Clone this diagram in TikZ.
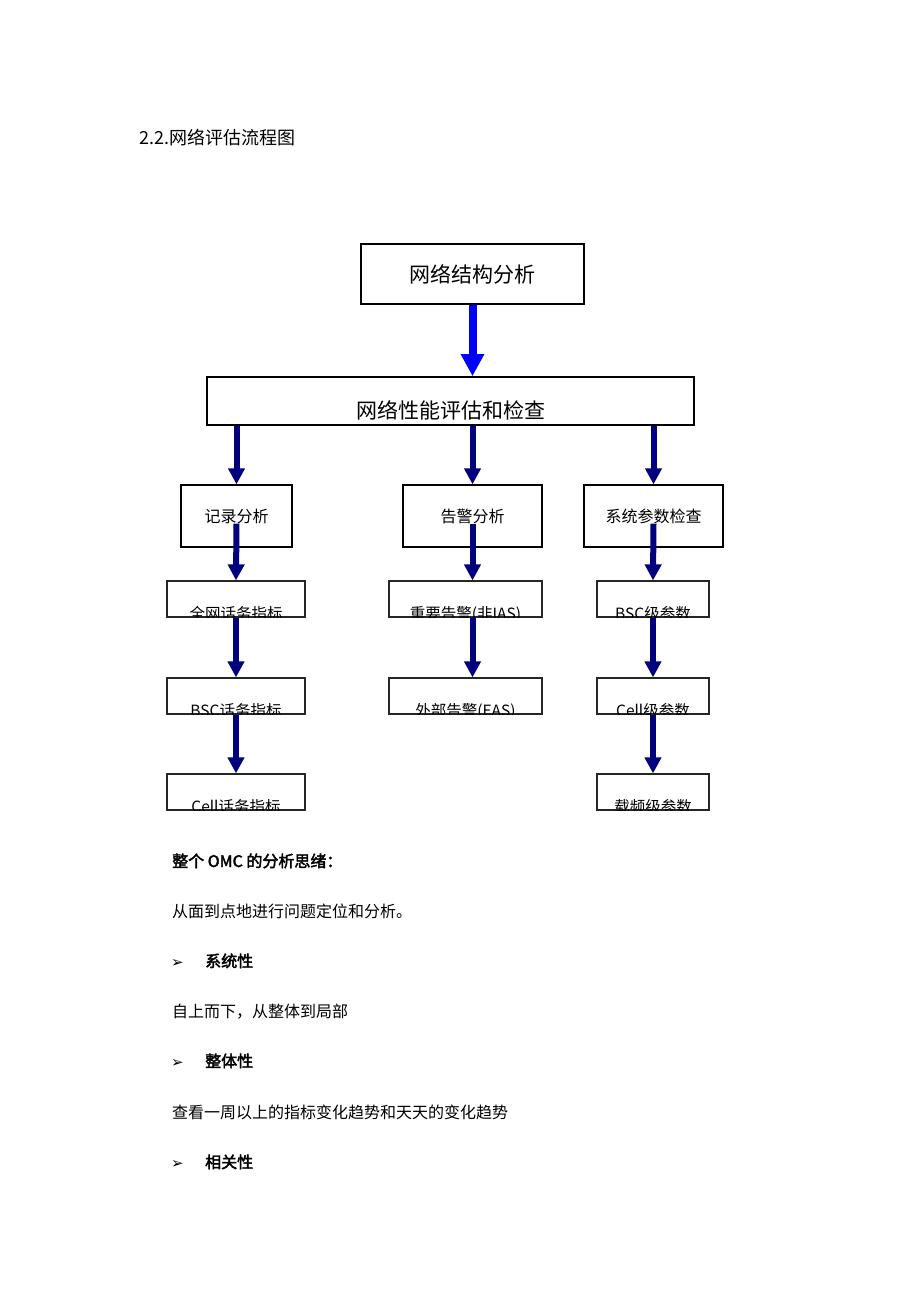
\documentclass[tikz,border=0pt]{standalone}
\usepackage{fontspec}
\newfontfamily\cjk[AutoFakeBold=2.5]{Noto Sans CJK SC}
\newfontfamily\symfont{DejaVu Sans}
\usetikzlibrary{arrows.meta,positioning,calc}
\definecolor{navy}{RGB}{0,0,128}

\begin{document}
\begin{tikzpicture}
  [
  x=1pt, y=-1pt, font=\cjk,
  bigbox/.style={rectangle, draw=black, line width=1.6pt, inner sep=0pt, font=\cjk\fontsize{21}{25}\selectfont},
  subbox/.style={rectangle, draw=black, line width=1.3pt, minimum height=62pt, inner sep=0pt, font=\cjk\fontsize{16}{19}\selectfont},
  leafbox/.style={rectangle, draw=black!85, line width=1.2pt, minimum height=36pt, inner sep=0pt},
  leaftext/.style={anchor=base, inner sep=0pt, font=\cjk\fontsize{15.5}{18}\selectfont},
  plain/.style={anchor=base west, inner sep=0pt, font=\cjk\fontsize{16}{19}\selectfont},
  heavy/.style={plain, font=\cjk\bfseries\fontsize{16}{19}\selectfont},
  bullet/.style={plain, font=\symfont\fontsize{15}{18}\selectfont},
  bigarrow/.style={blue, line width=8pt, -{Triangle[width=22pt,length=22pt]}},
  flow/.style={navy, line width=6pt, -{Triangle[width=16pt,length=16pt]}}
  ]

\fill[white] (0,0) rectangle (920,1302);

\node[plain, font=\cjk\fontsize{18}{21}\selectfont] (title) at (139,144) {2.2.网络评估流程图};

% upper part
\node[bigbox, minimum width=223pt, minimum height=60pt] (net) at (472.5,274) {网络结构分析};
\node[bigbox, minimum width=487pt, minimum height=48pt, text height=34pt, text depth=0pt] (eval) at (450.5,401) {网络性能评估和检查};
\draw[bigarrow] (net.south) -- (net.south |- eval.north);

\node[subbox, minimum width=111pt] (rec) at (236.5,516) {记录分析};
\node[subbox, minimum width=139pt] (alarm) at (472.5,516) {告警分析};
\node[subbox, minimum width=139pt] (para) at (653.5,516) {系统参数检查};

\foreach \s in {rec,alarm,para} {
  \draw[flow] (\s.center |- eval.south) -- (\s.north);
}

% lower boxes, text cut off at the bottom edge
\foreach \n/\x/\y/\w/\t in {rec1/236/599/138/全网话务指标, rec2/236/696/138/BSC话务指标, rec3/236/792/138/Cell话务指标,
  alarm1/465.5/599/153/重要告警(非IAS), alarm2/465.5/696/153/外部告警(EAS),
  para1/653/599/112/BSC级参数, para2/653/696/112/Cell级参数, para3/653/792/112/载频级参数} {
  \node[leafbox, minimum width=\w pt] (\n) at (\x,\y) {};
  \begin{scope}
    \clip (\n.south west) rectangle (\n.north east);
    \node[leaftext] (\n-t) at ($(\n.south)+(0,2)$) {\t};
  \end{scope}
}

\draw[flow] ($(rec.south)+(0,-24)$) -- (rec1.north);
\draw[flow] (rec1.south) -- (rec2.north);
\draw[flow] (rec2.south) -- (rec3.north);
\draw[flow] ($(alarm.south)+(0,-24)$) -- (alarm.center |- alarm1.north);
\draw[flow] (alarm.center |- alarm1.south) -- (alarm.center |- alarm2.north);
\draw[flow] ($(para.south)+(0,-24)$) -- (para1.north);
\draw[flow] (para1.south) -- (para2.north);
\draw[flow] (para2.south) -- (para3.north);

% text below
\node[heavy] (summary) at (172,867) {整个 OMC 的分析思绪：};
\node[plain] (line1) at (172,917) {从面到点地进行问题定位和分析。};
\node[bullet] (b1mark) at (171,967) {➢};
\node[heavy] (b1) at (205,967) {系统性};
\node[plain] (line2) at (172,1017) {自上而下，从整体到局部};
\node[bullet] (b2mark) at (171,1067) {➢};
\node[heavy] (b2) at (205,1067) {整体性};
\node[plain] (line3) at (172,1118) {查看一周以上的指标变化趋势和天天的变化趋势};
\node[bullet] (b3mark) at (171,1168) {➢};
\node[heavy] (b3) at (205,1168) {相关性};

\end{tikzpicture}
\end{document}
